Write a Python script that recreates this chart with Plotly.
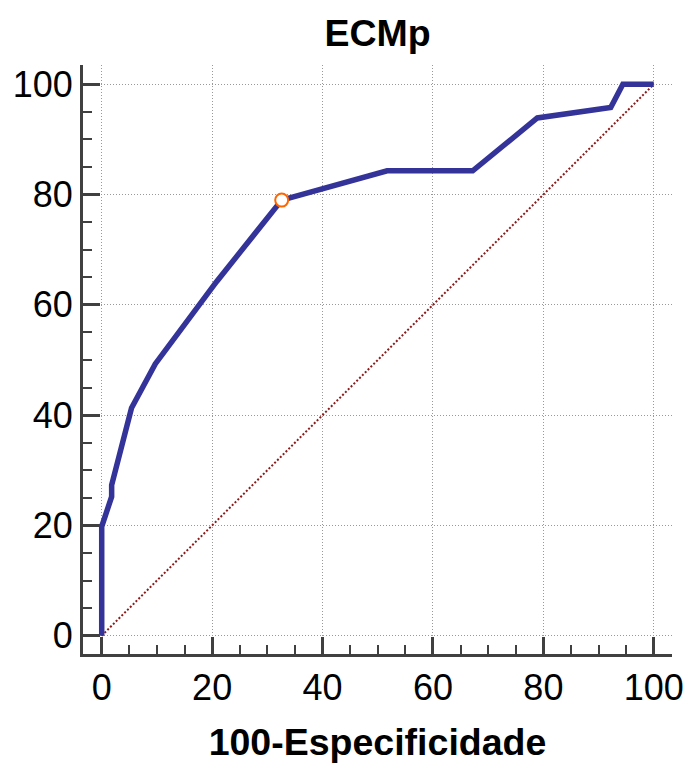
import plotly.graph_objects as go

# ROC curve data (100-Specificity, Sensitivity)
fpr = [0, 0, 1.8, 1.8, 5.4, 9.7, 20.8, 32.6, 51.7, 67.2, 78.9, 92.2, 94.4, 100]
tpr = [0, 19.8, 25.2, 27.3, 41.3, 49.3, 64.2, 79.0, 84.3, 84.3, 93.9, 95.8, 100, 100]
opt_x = [32.6]
opt_y = [79.0]
diag_x = [0, 100]
diag_y = [0, 100]
tick_vals = [0, 20, 40, 60, 80, 100]
tick_text = ["0", "20", "40", "60", "80", "100"]

FONT = "Liberation Sans, Arial, sans-serif"
AX = "#404040"

fig = go.Figure()
fig.add_trace(go.Scatter(x=diag_x, y=diag_y, mode="lines",
                         line=dict(color="#8B1A1A", width=2, dash="2px,2px"),
                         showlegend=False, hoverinfo="skip"))
fig.add_trace(go.Scatter(x=fpr, y=tpr, mode="lines",
                         line=dict(color="#333399", width=5.5),
                         showlegend=False))
fig.add_trace(go.Scatter(x=opt_x, y=opt_y, mode="markers",
                         marker=dict(size=13, color="white",
                                     line=dict(color="#FF6600", width=2)),
                         showlegend=False))

axis_common = dict(
    tickvals=tick_vals, ticktext=tick_text,
    ticks="inside", ticklen=17, tickwidth=3, tickcolor=AX,
    showline=True, linecolor=AX, linewidth=3,
    showgrid=True, gridcolor="#999999", gridwidth=1, griddash="1px,2px",
    zeroline=False, automargin=False,
    tickfont=dict(family=FONT, size=36, color="black"),
    minor=dict(dtick=5, tick0=0, ticks="inside", ticklen=9, tickwidth=2,
               tickcolor=AX, showgrid=False),
)

fig.update_xaxes(range=[-3.39, 103.3], **axis_common,
                 title=dict(text="<b>100-Especificidade</b>",
                            font=dict(family=FONT, size=37.5, color="black"),
                            standoff=22))
fig.update_yaxes(range=[-3.32, 103.5], **axis_common)

fig.update_layout(
    width=688, height=764,
    margin=dict(l=83, r=16, t=65, b=110),
    paper_bgcolor="white", plot_bgcolor="white",
    title=dict(text="<b>ECMp</b>", x=0.5, xref="paper",
               y=1 - 33 / 764, yref="container", yanchor="middle",
               font=dict(family=FONT, size=37.5, color="black")),
)

fig.write_html("out.html",
               config={"displayModeBar": False},
               post_script="document.body.style.margin='0';document.body.style.overflow='hidden';")
